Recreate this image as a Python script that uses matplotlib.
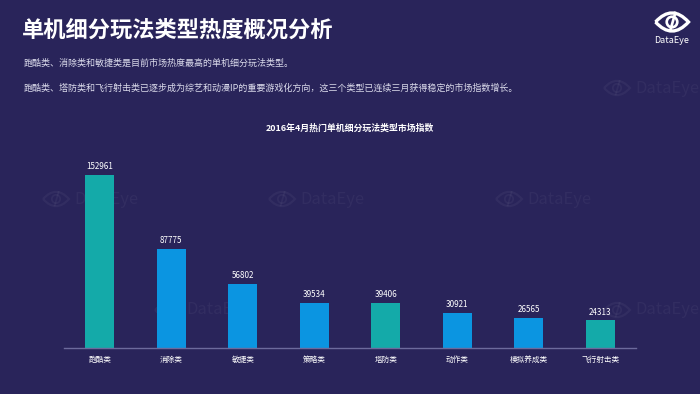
import numpy as np
import matplotlib
matplotlib.use("Agg")
import matplotlib.pyplot as plt
import matplotlib.patches as patches
from matplotlib.path import Path

plt.rcParams['font.family'] = ['Noto Sans CJK SC', 'DejaVu Sans']

# data
categories = ["跑酷类", "消除类", "敏捷类", "策略类", "塔防类", "动作类", "模拟养成类", "飞行射击类"]
values = [152961, 87775, 56802, 39534, 39406, 30921, 26565, 24313]
highlight = [True, False, False, False, True, False, False, True]

title = "单机细分玩法类型热度概况分析"
line1 = "跑酷类、消除类和敏捷类是目前市场热度最高的单机细分玩法类型。"
line2 = "跑酷类、塔防类和飞行射击类已逐步成为综艺和动漫IP的重要游戏化方向，这三个类型已连续三月获得稳定的市场指数增长。"
chart_title = "2016年4月热门单机细分玩法类型市场指数"

BG = "#29245a"
TEAL = "#14aaa9"
BLUE = "#0b95e1"

W, H = 700, 394
fig = plt.figure(figsize=(7, 3.94), dpi=100, facecolor=BG)

# overlay in pixel coords for decorations
deco = fig.add_axes([0, 0, 1, 1], zorder=0)
deco.set_xlim(0, W)
deco.set_ylim(H, 0)
deco.axis("off")
deco.set_facecolor(BG)


def eye(ax, cx, cy, w, color, lw, alpha=1.0, z=1):
    h = w * 0.55
    verts = [(cx - w / 2, cy), (cx, cy - h), (cx + w / 2, cy),
             (cx, cy + h), (cx - w / 2, cy)]
    codes = [Path.MOVETO, Path.CURVE3, Path.CURVE3, Path.CURVE3, Path.CURVE3]
    ax.add_patch(patches.PathPatch(Path(verts, codes), fill=False, ec=color,
                                   lw=lw, alpha=alpha, zorder=z))
    ax.add_patch(patches.Circle((cx, cy), w * 0.16, fill=False, ec=color,
                                lw=lw * 0.8, alpha=alpha, zorder=z))
    ax.plot([cx - w * 0.05, cx + w * 0.1], [cy + h * 0.45, cy - h * 0.5],
            color=color, lw=lw * 0.8, alpha=alpha, zorder=z)


# faint watermarks
marks = [(603, 88), (42, 199), (268, 199), (495, 199), (154, 310), (603, 310)]
for mx, my in marks:
    eye(deco, mx + 14, my, 26, "white", 1.6, alpha=0.045)
    deco.text(mx + 32, my, "DataEye", color="white", alpha=0.045,
              fontsize=12, va="center", ha="left")

# logo
eye(deco, 672, 22, 33, "white", 2.4, z=3)
deco.text(672, 40, "DataEye", color="white", fontsize=6.5, ha="center", va="center")

# text block
fig.text(22 / W, 1 - 30 / H, title, color="white", fontsize=16, fontweight="bold",
         va="center", ha="left")
fig.text(24 / W, 1 - 63 / H, line1, color="#dcdcec", fontsize=6.5, va="center", ha="left")
fig.text(24 / W, 1 - 88 / H, line2, color="#dcdcec", fontsize=6.5, va="center", ha="left")
fig.text(350 / W, 1 - 128 / H, chart_title, color="white", fontsize=6.4,
         fontweight="bold", va="center", ha="center")

# bar chart
ax = fig.add_axes([64 / W, 46 / H, 572 / W, 198 / H], zorder=2)
ax.set_facecolor("none")
x = np.arange(len(categories))
colors = [TEAL if h else BLUE for h in highlight]
ax.bar(x, values, width=0.4, color=colors)
for xi, v in zip(x, values):
    ax.text(xi, v + 3500, str(v), color="white", fontsize=5.8, ha="center", va="bottom")
ax.set_xlim(-0.5, 7.5)
ax.set_ylim(0, 175000)
ax.set_xticks(x)
ax.set_xticklabels(categories, color="white", fontsize=5.5)
ax.tick_params(axis="x", length=0, pad=6)
ax.set_yticks([])
for s in ["top", "right", "left"]:
    ax.spines[s].set_visible(False)
ax.spines["bottom"].set_color("#6c6a9c")
ax.spines["bottom"].set_linewidth(1)

fig.savefig("out.png", dpi=100, facecolor=BG)
